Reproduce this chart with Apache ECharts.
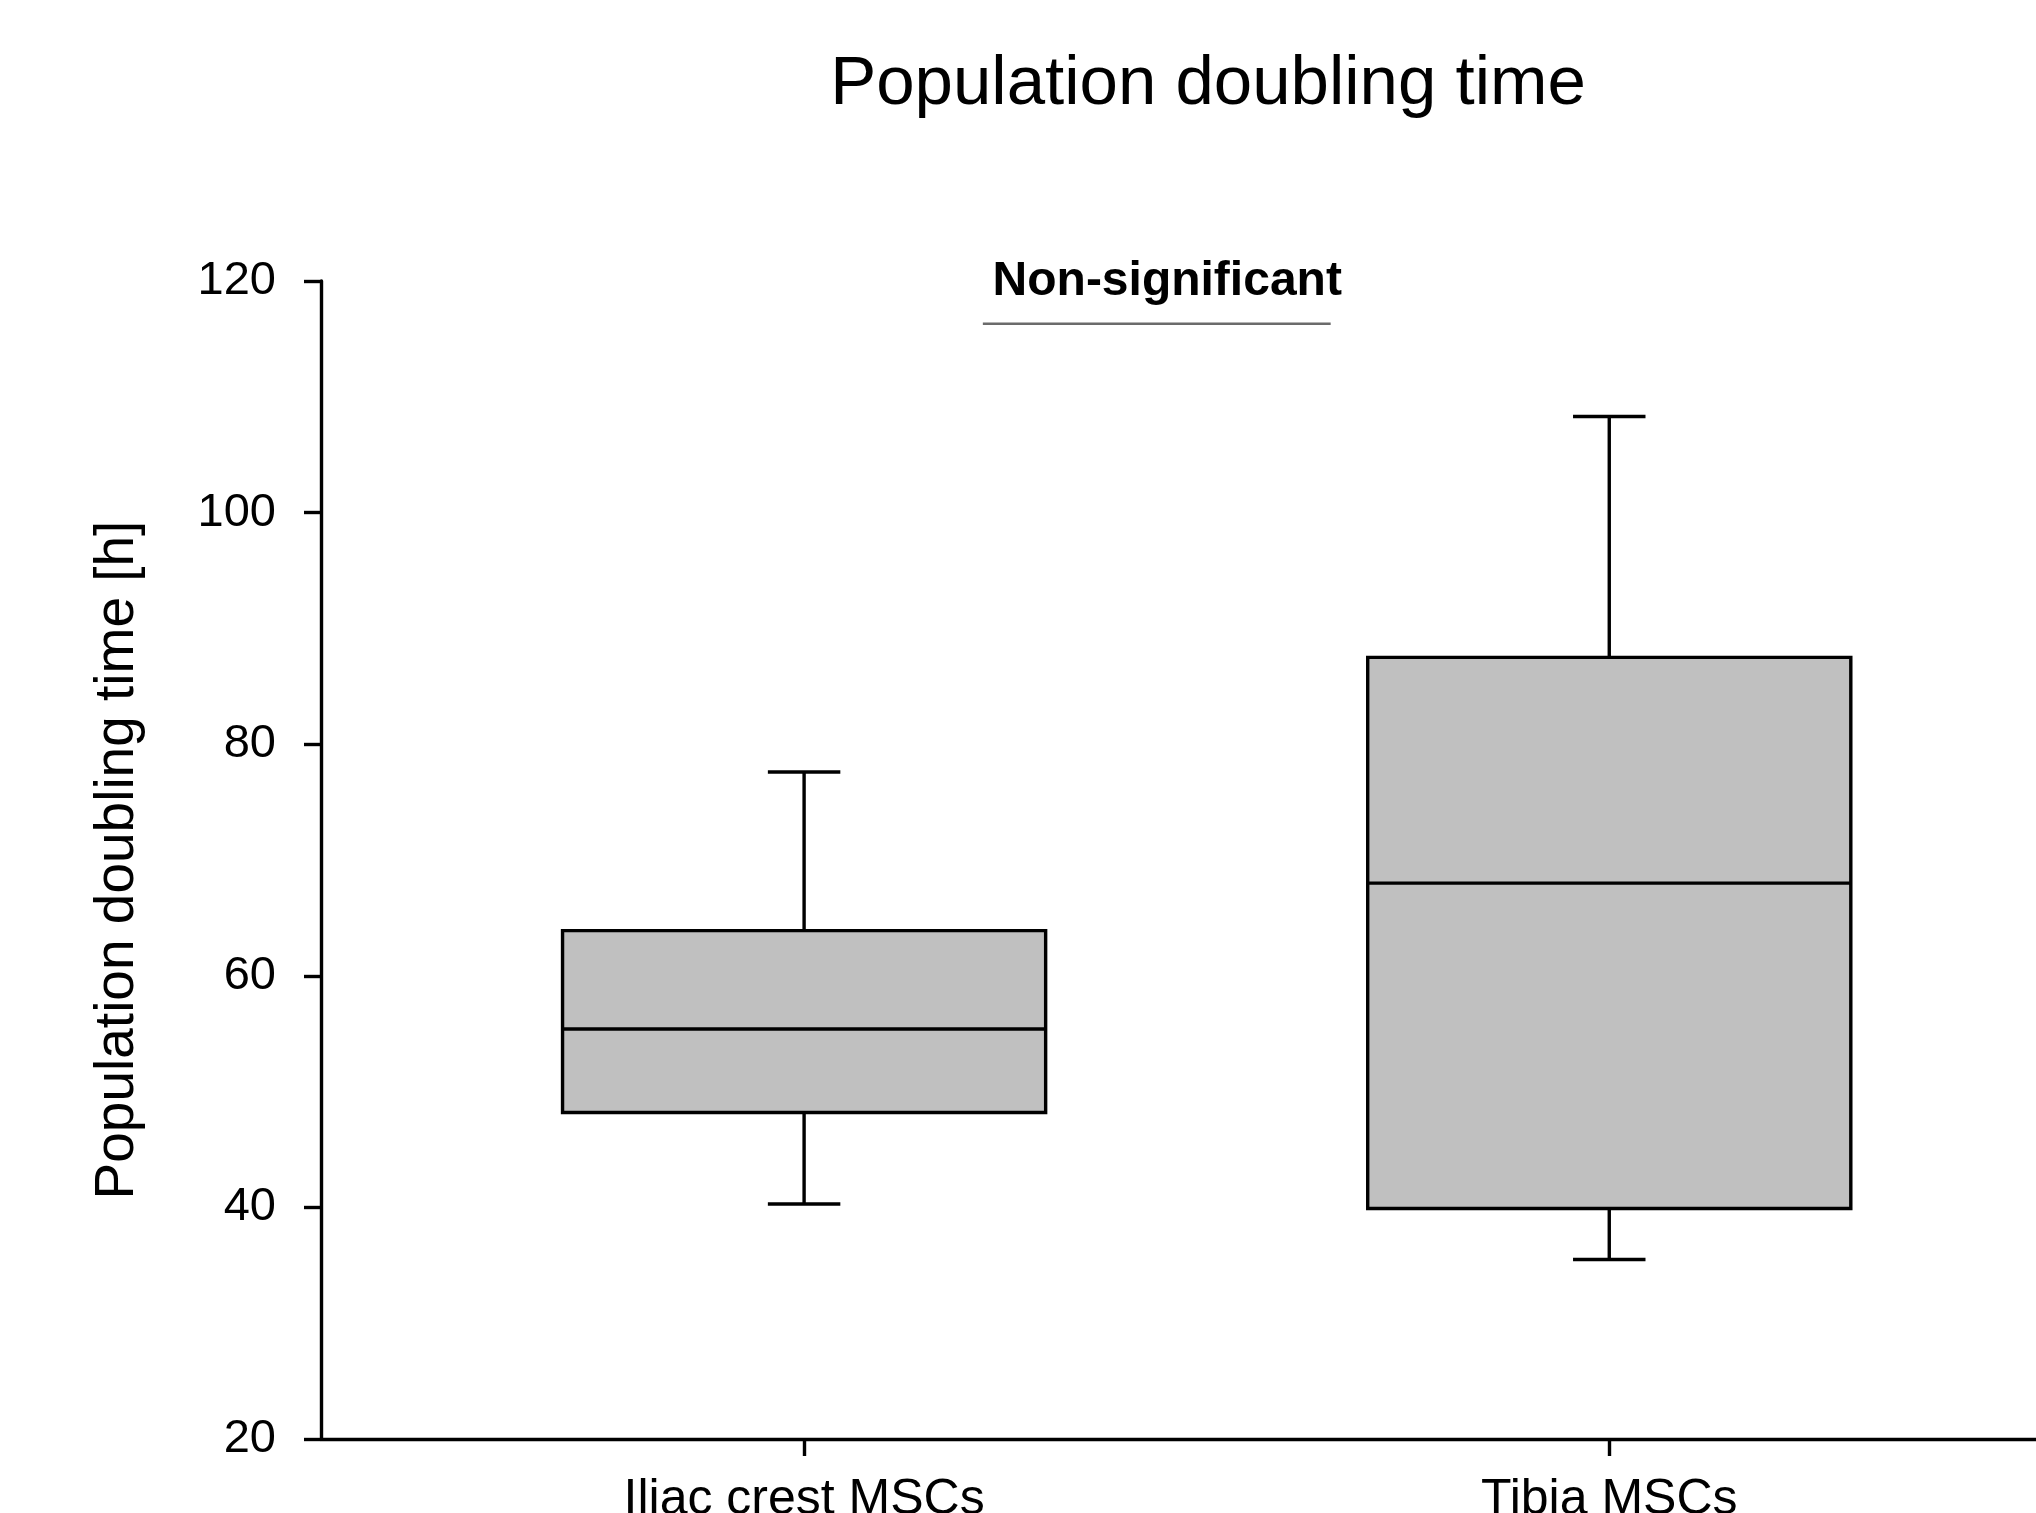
<!DOCTYPE html>
<html><head><meta charset="utf-8">
<script src="https://cdn.jsdelivr.net/npm/echarts@6/dist/echarts.min.js"></script>
<style>html,body{margin:0;padding:0;background:#fff;overflow:hidden}#chart{width:2036px;height:1513px}</style>
</head><body><div id="chart"></div>
<script>
// ---- data ----
const categories = ['Iliac crest MSCs', 'Tibia MSCs'];
const categoryPositions = [1, 2];
const whiskerLow = [40.3, 35.5];
const q1 = [48.2, 39.9];
const median = [55.4, 68.0];
const q3 = [63.9, 87.5];
const whiskerHigh = [77.6, 108.3];
const yTicks = [20, 40, 60, 80, 100, 120];
const annotationText = 'Non-significant';
const annotationBar = [[1.222, 116.3], [1.654, 116.3]];
const annotationLabelPos = [1.451, 119.9];

const FONT = "'Liberation Sans', Arial, Helvetica, sans-serif";
const boxData = categoryPositions.map((x, i) => [x, whiskerLow[i], q1[i], median[i], q3[i], whiskerHigh[i]]);

function renderBox(params, api) {
  const x = api.value(0);
  const pLow = api.coord([x, api.value(1)]);
  const pQ1 = api.coord([x, api.value(2)]);
  const pMed = api.coord([x, api.value(3)]);
  const pQ3 = api.coord([x, api.value(4)]);
  const pHigh = api.coord([x, api.value(5)]);
  const halfBox = api.size([0.6, 0])[0] / 2;
  const halfCap = api.size([0.09, 0])[0] / 2;
  const stroke = { stroke: '#000', lineWidth: 3.4, fill: null };
  return {
    type: 'group',
    children: [
      { type: 'line', shape: { x1: pQ3[0], y1: pQ3[1], x2: pHigh[0], y2: pHigh[1] }, style: stroke },
      { type: 'line', shape: { x1: pHigh[0] - halfCap, y1: pHigh[1], x2: pHigh[0] + halfCap, y2: pHigh[1] }, style: stroke },
      { type: 'line', shape: { x1: pQ1[0], y1: pQ1[1], x2: pLow[0], y2: pLow[1] }, style: stroke },
      { type: 'line', shape: { x1: pLow[0] - halfCap, y1: pLow[1], x2: pLow[0] + halfCap, y2: pLow[1] }, style: stroke },
      { type: 'rect', shape: { x: pQ3[0] - halfBox, y: pQ3[1], width: halfBox * 2, height: pQ1[1] - pQ3[1] },
        style: { fill: '#c0c0c0', stroke: '#000', lineWidth: 3.4 } },
      { type: 'line', shape: { x1: pMed[0] - halfBox, y1: pMed[1], x2: pMed[0] + halfBox, y2: pMed[1] }, style: stroke }
    ]
  };
}

function renderAnnotation(params, api) {
  const a = api.coord(annotationBar[0]);
  const b = api.coord(annotationBar[1]);
  const t = api.coord(annotationLabelPos);
  return {
    type: 'group',
    children: [
      { type: 'line', shape: { x1: a[0], y1: a[1], x2: b[0], y2: b[1] }, style: { stroke: '#6b6b6b', lineWidth: 2.5 } },
      { type: 'text', x: t[0], y: t[1], style: { text: annotationText, fill: '#000', font: "bold 48px " + FONT, textAlign: 'center', textVerticalAlign: 'middle' } }
    ]
  };
}

const chart = echarts.init(document.getElementById('chart'));
chart.setOption({
  backgroundColor: '#fff',
  animation: false,
  textStyle: { fontFamily: FONT },
  title: {
    text: 'Population doubling time',
    left: 1208, top: 50, padding: 0, textAlign: 'center',
    textStyle: { fontSize: 69, fontWeight: 'normal', color: '#000', fontFamily: FONT }
  },
  grid: { left: 321, right: 0, top: 281, bottom: 74, containLabel: false, outerBoundsMode: 'none' },
  xAxis: {
    type: 'value', min: 0.4, max: 2.53,
    splitLine: { show: false },
    axisLine: { show: true, lineStyle: { color: '#000', width: 3.4 } },
    axisTick: { show: true, customValues: categoryPositions, length: 17, lineStyle: { color: '#000', width: 3.4 } },
    axisLabel: {
      customValues: categoryPositions, fontSize: 50, color: '#000', margin: 36, fontFamily: FONT,
      formatter: v => categories[categoryPositions.indexOf(v)] || ''
    }
  },
  yAxis: {
    type: 'value', min: yTicks[0], max: yTicks[yTicks.length - 1], interval: yTicks[1] - yTicks[0],
    name: 'Population doubling time [h]', nameLocation: 'middle', nameGap: 176,
    nameTextStyle: { fontSize: 55, color: '#000', fontFamily: FONT },
    splitLine: { show: false },
    axisLine: { show: true, lineStyle: { color: '#000', width: 3.4 } },
    axisTick: { show: true, length: 17, lineStyle: { color: '#000', width: 3.4 } },
    axisLabel: { fontSize: 47, color: '#000', margin: 45, fontFamily: FONT }
  },
  series: [
    { type: 'custom', name: 'boxes', renderItem: renderBox, data: boxData, encode: { x: 0, y: [1, 2, 3, 4, 5] }, clip: false },
    { type: 'custom', name: 'annotation', renderItem: renderAnnotation, data: [[annotationLabelPos[0], annotationLabelPos[1]]], encode: { x: 0, y: 1 }, clip: false, silent: true }
  ]
});
</script>
</body></html>
